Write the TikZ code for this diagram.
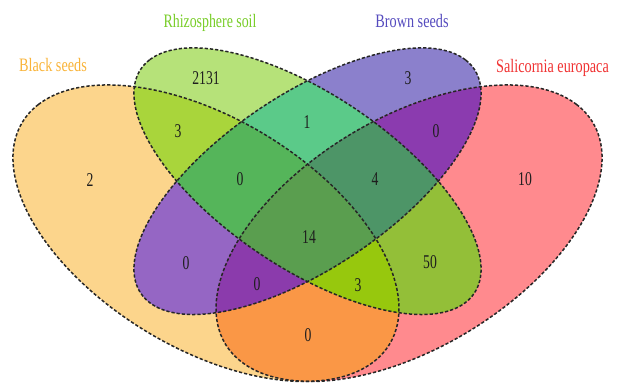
\documentclass[tikz,border=0pt]{standalone}
\usepackage{fontspec}
\setmainfont{Liberation Serif}
\definecolor{cO}{HTML}{FCD58C}
\definecolor{cG}{HTML}{B6E279}
\definecolor{cP}{HTML}{8B80CC}
\definecolor{cR}{HTML}{FF8A8E}
\definecolor{cOG}{HTML}{A9D53B}
\definecolor{cOP}{HTML}{9566C4}
\definecolor{cOR}{HTML}{FA9746}
\definecolor{cGP}{HTML}{5BCA89}
\definecolor{cGR}{HTML}{93BF38}
\definecolor{cPR}{HTML}{8B3BAF}
\definecolor{cOGP}{HTML}{55B55A}
\definecolor{cOGR}{HTML}{97C80D}
\definecolor{cOPR}{HTML}{8B3BAC}
\definecolor{cGPR}{HTML}{4D9567}
\definecolor{cAll}{HTML}{5A9E4F}
\definecolor{tO}{HTML}{F9B43A}
\definecolor{tG}{HTML}{78CD28}
\definecolor{tP}{HTML}{554BBE}
\definecolor{tR}{HTML}{F03232}
\definecolor{numc}{HTML}{1E1E1E}
\newcommand\narrowtxt[2]{\scalebox{#1}[1]{#2}}
\newcommand\pO{(0,0) ellipse [x radius=0.35, y radius=0.20]}
\newcommand\pG{(0,0) ellipse [x radius=0.33, y radius=0.15]}
\newcommand\pP{(0,0) ellipse [x radius=0.33, y radius=0.15]}
\newcommand\pR{(0,0) ellipse [x radius=0.35, y radius=0.20]}
\tikzset{
  trO/.style={shift={(0.35,0.47)},rotate=135},
  trG/.style={shift={(0.50,0.57)},rotate=135},
  trP/.style={shift={(0.50,0.57)},rotate=45},
  trR/.style={shift={(0.65,0.47)},rotate=45},
  border/.style={draw=black!85, line width=1.5pt, dash pattern=on 3.2pt off 2pt},
  num/.style={text=numc, inner sep=0pt, font=\fontsize{19.5}{20}\selectfont},
  setlabel/.style={inner sep=0pt, anchor=base, font=\fontsize{19}{20}\selectfont}
}
\begin{document}
\begin{tikzpicture}[x=1pt,y=1pt]
\useasboundingbox (0,0) rectangle (621,383);
\begin{scope}[shift={(-31pt,-94.6pt)}, xscale=677, yscale=520]
  % single sets
  \fill[cO, trO] \pO;
  \fill[cG, trG] \pG;
  \fill[cP, trP] \pP;
  \fill[cR, trR] \pR;
  % pairs
  \begin{scope}\clip[trO] \pO; \fill[cOG, trG] \pG; \end{scope}
  \begin{scope}\clip[trO] \pO; \fill[cOP, trP] \pP; \end{scope}
  \begin{scope}\clip[trO] \pO; \fill[cOR, trR] \pR; \end{scope}
  \begin{scope}\clip[trG] \pG; \fill[cGP, trP] \pP; \end{scope}
  \begin{scope}\clip[trG] \pG; \fill[cGR, trR] \pR; \end{scope}
  \begin{scope}\clip[trP] \pP; \fill[cPR, trR] \pR; \end{scope}
  % triples
  \begin{scope}\clip[trO] \pO; \clip[trG] \pG; \fill[cOGP, trP] \pP; \end{scope}
  \begin{scope}\clip[trO] \pO; \clip[trG] \pG; \fill[cOGR, trR] \pR; \end{scope}
  \begin{scope}\clip[trO] \pO; \clip[trP] \pP; \fill[cOPR, trR] \pR; \end{scope}
  \begin{scope}\clip[trG] \pG; \clip[trP] \pP; \fill[cGPR, trR] \pR; \end{scope}
  % all four
  \begin{scope}\clip[trO] \pO; \clip[trG] \pG; \clip[trP] \pP; \fill[cAll, trR] \pR; \end{scope}
  % borders
  \draw[border, trO] \pO;
  \draw[border, trG] \pG;
  \draw[border, trP] \pP;
  \draw[border, trR] \pR;
\end{scope}
% set labels
\node[setlabel, text=tO] (lO) at (53,311) {\narrowtxt{0.75}{Black seeds}};
\node[setlabel, text=tG] (lG) at (210,355.5) {\narrowtxt{0.73}{Rhizosphere soil}};
\node[setlabel, text=tP] (lP) at (412,355) {\narrowtxt{0.75}{Brown seeds}};
\node[setlabel, text=tR] (lR) at (552.5,310.5) {\narrowtxt{0.75}{Salicornia europaca}};
% counts
\node[num] (nO) at (90,203) {\narrowtxt{0.7}{2}};
\node[num] (nG) at (206,305) {\narrowtxt{0.7}{2131}};
\node[num] (nP) at (408,305) {\narrowtxt{0.7}{3}};
\node[num] (nR) at (525,204) {\narrowtxt{0.7}{10}};
\node[num] (nOG) at (178,252) {\narrowtxt{0.7}{3}};
\node[num] (nGP) at (307,261) {\narrowtxt{0.7}{1}};
\node[num] (nPR) at (436,252) {\narrowtxt{0.7}{0}};
\node[num] (nOGP) at (240,204) {\narrowtxt{0.7}{0}};
\node[num] (nGPR) at (375,204) {\narrowtxt{0.7}{4}};
\node[num] (nAll) at (309,146) {\narrowtxt{0.7}{14}};
\node[num] (nOP) at (186,120) {\narrowtxt{0.7}{0}};
\node[num] (nOPR) at (257,99) {\narrowtxt{0.7}{0}};
\node[num] (nOGR) at (358,98) {\narrowtxt{0.7}{3}};
\node[num] (nGR) at (430,121) {\narrowtxt{0.7}{50}};
\node[num] (nOR) at (308,48) {\narrowtxt{0.7}{0}};
\end{tikzpicture}
\end{document}
